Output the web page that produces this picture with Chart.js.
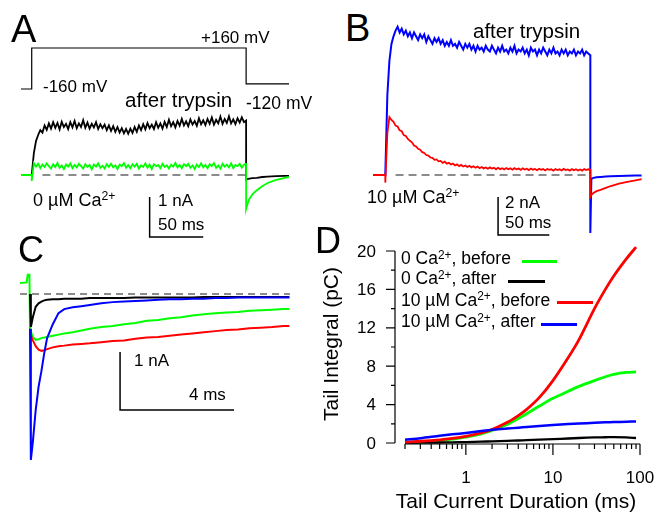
<!DOCTYPE html>
<html>
<head>
<meta charset="utf-8">
<script src="https://cdn.jsdelivr.net/npm/chart.js@4.4.0/dist/chart.umd.min.js"></script>
<style>
  body { margin: 0; background: #fff; }
  #fig { position: relative; width: 657px; height: 513px; overflow: hidden;
         font-family: "Liberation Sans", Arial, sans-serif; color: #000; }
  #fig canvas { position: absolute; }
  .lbl { position: absolute; line-height: 1; white-space: nowrap; }
  .sup { font-size: 68%; position: relative; top: -0.45em; }
  .key { position: absolute; height: 3px; }
</style>
</head>
<body>
<div id="fig">
  <canvas id="chartA" width="268" height="220" style="left:21px;top:30px"></canvas>
  <canvas id="chartB" width="269" height="235" style="left:373px;top:15px"></canvas>
  <canvas id="chartC" width="270" height="205" style="left:20px;top:265px"></canvas>
  <canvas id="chartD" width="347" height="273" style="left:310px;top:240px"></canvas>

  <div class="lbl" style="left:11px;top:10px;font-size:38px">A</div>
  <div class="lbl" style="left:345px;top:9px;font-size:38px">B</div>
  <div class="lbl" style="left:18px;top:232px;font-size:36px">C</div>
  <div class="lbl" style="left:315px;top:223px;font-size:36px">D</div>

  <div class="lbl" style="left:201px;top:28.6px;font-size:17px">+160 mV</div>
  <div class="lbl" style="left:43px;top:77.6px;font-size:17px">-160 mV</div>
  <div class="lbl" style="left:125px;top:90px;font-size:20.5px">after trypsin</div>
  <div class="lbl" style="left:246px;top:95px;font-size:17.5px">-120 mV</div>
  <div class="lbl" style="left:33px;top:190.8px;font-size:18px">0 µM Ca<span class="sup">2+</span></div>
  <div class="lbl" style="left:158px;top:192px;font-size:17px">1 nA</div>
  <div class="lbl" style="left:158px;top:215.6px;font-size:17px">50 ms</div>

  <div class="lbl" style="left:473px;top:21px;font-size:20.5px">after trypsin</div>
  <div class="lbl" style="left:367px;top:187.8px;font-size:18px">10 µM Ca<span class="sup">2+</span></div>
  <div class="lbl" style="left:505px;top:193.6px;font-size:17px">2 nA</div>
  <div class="lbl" style="left:505px;top:213.6px;font-size:17px">50 ms</div>

  <div class="lbl" style="left:134px;top:351.6px;font-size:17px">1 nA</div>
  <div class="lbl" style="left:189px;top:385.6px;font-size:17px">4 ms</div>

  <div class="lbl" style="left:401px;top:250px;font-size:17.5px">0 Ca<span class="sup">2+</span>, before</div>
  <div class="lbl" style="left:401px;top:270px;font-size:17.5px">0 Ca<span class="sup">2+</span>, after</div>
  <div class="lbl" style="left:401px;top:291.7px;font-size:17.5px">10 µM Ca<span class="sup">2+</span>, before</div>
  <div class="lbl" style="left:401px;top:313px;font-size:17.5px">10 µM Ca<span class="sup">2+</span>, after</div>
  <div class="key" style="left:522px;top:259.5px;width:35px;background:#00ff00"></div>
  <div class="key" style="left:508px;top:279.5px;width:37px;background:#000"></div>
  <div class="key" style="left:557px;top:300.5px;width:36px;background:#ff0000"></div>
  <div class="key" style="left:541px;top:322.5px;width:36px;background:#0000ff"></div>
</div>

<script>
// ---- panel A: 0 uM Ca, step to +160 mV (ms, nA, mV)
var aStepEnd = 200;
var aPreTime = [-10, 0];
var aPreBlack = [0, 0];
var aPreGreen = [0, 0];
var aBlackStep = [0.00, 0.55, 0.85, 1.00, 1.12, 1.06, 1.24, 1.13, 1.29, 1.16, 1.32, 1.18, 1.30, 1.14, 1.33, 1.20,
  1.28, 1.15, 1.32, 1.19, 1.35, 1.17, 1.29, 1.20, 1.37, 1.18, 1.31, 1.16, 1.28, 1.19, 1.32, 1.15, 1.27, 1.17,
  1.26, 1.12, 1.24, 1.10, 1.22, 1.08, 1.20, 1.06, 1.17, 1.04, 1.15, 1.03, 1.16, 1.05, 1.20, 1.08, 1.24, 1.12,
  1.27, 1.14, 1.30, 1.17, 1.26, 1.15, 1.32, 1.18, 1.29, 1.16, 1.33, 1.20, 1.38, 1.22, 1.32, 1.19, 1.35, 1.23,
  1.40, 1.24, 1.34, 1.22, 1.39, 1.26, 1.35, 1.23, 1.42, 1.27, 1.37, 1.25, 1.40, 1.28, 1.44, 1.26, 1.38, 1.29,
  1.46, 1.28, 1.40, 1.30, 1.47, 1.29, 1.39, 1.27, 1.42, 1.31, 1.44, 1.32, 1.36];
var aGreenStep = [-0.15, 0.30, 0.21, 0.28, 0.17, 0.26, 0.20, 0.29, 0.22, 0.16, 0.27, 0.20, 0.30, 0.18, 0.24,
  0.15, 0.26, 0.21, 0.29, 0.17, 0.25, 0.19, 0.28, 0.22, 0.16, 0.27, 0.20, 0.25, 0.14, 0.26, 0.21, 0.29, 0.18,
  0.23, 0.16, 0.27, 0.20, 0.28, 0.19, 0.24, 0.15, 0.26, 0.22, 0.30, 0.18, 0.25, 0.17, 0.27, 0.21, 0.28, 0.16,
  0.24, 0.20, 0.29, 0.18, 0.26, 0.15, 0.27, 0.22, 0.25, 0.17, 0.28, 0.20, 0.24, 0.16, 0.26, 0.21, 0.30, 0.19,
  0.25, 0.17, 0.27, 0.22, 0.28, 0.18, 0.24, 0.15, 0.26, 0.20, 0.29, 0.19, 0.25, 0.17, 0.27, 0.22, 0.30, 0.18,
  0.24, 0.16, 0.28, 0.21, 0.26, 0.19, 0.29, 0.17, 0.25, 0.22, 0.28, 0.18, 0.26, 0.27];
var aTailTime = [200, 201, 203, 206, 210, 215, 220, 228, 236, 240];
var aBlackTail = [-0.12, -0.10, -0.09, -0.08, -0.07, -0.05, -0.04, -0.03, -0.02, -0.02];
var aGreenTail = [-0.85, -0.75, -0.60, -0.48, -0.38, -0.28, -0.20, -0.12, -0.07, -0.05];
var aVoltTime = [-10, 0, 0, 200, 200, 240];
var aVolt = [-160, -160, 160, 160, -120, -120];
var aBaseTime = [10, 200];
var aBarTime = [110, 110, 160];
var aBarCurrent = [-0.55, -1.55, -1.55];

// ---- panel B: 10 uM Ca
var bStepEnd = 200;
var bPreTime = [-12, 0];
var bPreBlue = [0, 0];
var bPreRed = [0, 0];
var bBlueStep = [0, 4.2, 6.0, 6.9, 7.3, 7.6, 7.8, 7.5, 7.7, 7.4, 7.6, 7.3, 7.5, 7.2, 7.5, 7.3, 7.1, 7.4, 7.2,
  7.4, 7.0, 7.3, 7.1, 6.9, 7.2, 7.0, 7.2, 6.9, 7.1, 6.8, 7.0, 6.8, 7.1, 6.8, 6.9, 6.7, 7.0, 6.8, 6.6, 6.9,
  6.7, 6.9, 6.6, 6.8, 6.5, 6.8, 6.6, 6.7, 6.5, 6.8, 6.6, 6.5, 6.8, 6.6, 6.4, 6.7, 6.5, 6.8, 6.5, 6.6, 6.4,
  6.7, 6.5, 6.8, 6.4, 6.6, 6.5, 6.7, 6.4, 6.6, 6.3, 6.7, 6.5, 6.6, 6.3, 6.6, 6.4, 6.7, 6.5, 6.3, 6.6, 6.4,
  6.7, 6.4, 6.5, 6.3, 6.6, 6.4, 6.6, 6.3, 6.5, 6.4, 6.6, 6.3, 6.5, 6.4, 6.6, 6.3, 6.5, 6.4, 6.3];
var bRedStep = [-0.4, 2.2, 3.05, 2.9, 2.8, 2.6, 2.55, 2.35, 2.3, 2.1, 2.05, 1.9, 1.8, 1.72, 1.55, 1.5, 1.38,
  1.33, 1.2, 1.16, 1.05, 1.02, 0.92, 0.9, 0.8, 0.82, 0.72, 0.74, 0.64, 0.7, 0.6, 0.64, 0.55, 0.6, 0.5, 0.56,
  0.47, 0.53, 0.45, 0.5, 0.42, 0.48, 0.4, 0.46, 0.38, 0.44, 0.36, 0.42, 0.35, 0.4, 0.33, 0.4, 0.34, 0.38,
  0.3, 0.38, 0.31, 0.36, 0.29, 0.37, 0.3, 0.35, 0.28, 0.36, 0.3, 0.34, 0.27, 0.35, 0.29, 0.33, 0.26, 0.34,
  0.28, 0.32, 0.25, 0.33, 0.27, 0.31, 0.24, 0.32, 0.27, 0.3, 0.23, 0.31, 0.26, 0.3, 0.24, 0.32, 0.26, 0.29,
  0.23, 0.31, 0.25, 0.3, 0.24, 0.29, 0.23, 0.31, 0.26, 0.3, 0.28];
var bTailTime = [200, 201, 203, 206, 210, 215, 220, 228, 236, 244, 250];
var bBlueTail = [-3.05, -0.2, -0.15, -0.12, -0.1, -0.08, -0.07, -0.05, -0.04, -0.03, -0.02];
var bRedTail = [-1.15, -1.05, -0.95, -0.85, -0.78, -0.68, -0.58, -0.46, -0.36, -0.28, -0.22];
var bBaseTime = [10, 200];
var bBarTime = [110, 110, 160];
var bBarCurrent = [-1.16, -3.16, -3.16];

// ---- panel C: tail currents at -120 mV, expanded
var cTime = [0, 0.03, 0.1, 0.2, 0.3, 0.4, 0.5, 0.6, 0.8, 1.0, 1.2, 1.5, 1.8, 2.1, 2.5, 2.9, 3.3, 3.7, 4.1,
  4.5, 4.9, 5.3, 5.7, 6.1, 6.5, 6.9, 7.3, 7.7, 8.1, 8.5, 8.9, 9.1];
var cGreenPreTime = [-0.35, -0.12, -0.08, -0.02];
var cGreenPre = [0.19, 0.2, 0.33, 0.33];
var cGreen = [-0.6, -0.65, -0.74, -0.79, -0.78, -0.76, -0.75, -0.74, -0.72, -0.7, -0.68, -0.66, -0.63, -0.6,
  -0.57, -0.55, -0.52, -0.5, -0.46, -0.45, -0.42, -0.4, -0.37, -0.35, -0.33, -0.32, -0.31, -0.29, -0.28,
  -0.27, -0.26, -0.26];
var cBlack = [0.0, -0.57, -0.4, -0.22, -0.16, -0.13, -0.11, -0.1, -0.09, -0.09, -0.08, -0.08, -0.08, -0.07,
  -0.07, -0.07, -0.07, -0.06, -0.06, -0.06, -0.06, -0.06, -0.06, -0.05, -0.05, -0.05, -0.05, -0.05, -0.05,
  -0.05, -0.05, -0.05];
var cRed = [-0.7, -0.72, -0.8, -0.9, -0.96, -0.98, -0.97, -0.95, -0.92, -0.9, -0.89, -0.87, -0.86, -0.85,
  -0.83, -0.81, -0.8, -0.77, -0.75, -0.74, -0.72, -0.7, -0.68, -0.66, -0.64, -0.62, -0.61, -0.59, -0.58,
  -0.57, -0.55, -0.55];
var cBlue = [-0.6, -2.86, -2.55, -2.0, -1.6, -1.33, -1.02, -0.76, -0.52, -0.33, -0.26, -0.23, -0.21, -0.19,
  -0.16, -0.14, -0.13, -0.12, -0.11, -0.1, -0.09, -0.09, -0.08, -0.08, -0.07, -0.07, -0.06, -0.06, -0.06,
  -0.06, -0.06, -0.06];
var cBaseTime = [-0.35, 9.12];
var cBarTime = [3.16, 3.16, 7.16];
var cBarCurrent = [-1.0, -2.0, -2.0];

// ---- panel D: tail integral vs duration
var dDuration = [0.2, 0.3, 0.5, 0.7, 1, 1.5, 2, 3, 4, 5, 7, 10, 15, 20, 30, 40, 50, 70, 90];
var dZeroBefore = [0.05, 0.1, 0.25, 0.4, 0.6, 0.95, 1.3, 1.95, 2.55, 3.05, 3.85, 4.65, 5.4, 5.9, 6.5, 6.9, 7.15, 7.35, 7.4];
var dZeroAfter = [0.02, 0.03, 0.05, 0.07, 0.1, 0.14, 0.17, 0.22, 0.26, 0.3, 0.35, 0.4, 0.47, 0.52, 0.58, 0.6, 0.62, 0.58, 0.52];
var dTenBefore = [0.1, 0.18, 0.33, 0.48, 0.7, 1.05, 1.4, 2.15, 2.85, 3.5, 4.75, 6.5, 8.9, 10.8, 14.0, 16.0, 17.4, 19.2, 20.4];
var dTenAfter = [0.35, 0.5, 0.75, 0.9, 1.05, 1.25, 1.38, 1.5, 1.6, 1.67, 1.77, 1.87, 1.97, 2.03, 2.1, 2.15, 2.18, 2.22, 2.25];
var dYTicks = [0, 4, 8, 12, 16, 20];
var dXTicks = [1, 10, 100];

var GREEN = "#00ff00", RED = "#ff0000", BLUE = "#0000ff", BLACK = "#000000", DASH = "#666666";

function pairs(xs, ys) {
  return xs.map((x, i) => ({ x: x, y: ys[i] }));
}

function tracePoints(preT, preV, stepV, stepEnd, tailT, tailV) {
  var dt = stepEnd / (stepV.length - 1);
  var pts = pairs(preT, preV);
  stepV.forEach((v, i) => pts.push({ x: i * dt, y: v }));
  return pts.concat(pairs(tailT, tailV));
}

function line(data, color, width, extra) {
  return Object.assign({ data: data, borderColor: color, borderWidth: width, pointRadius: 0,
    tension: 0, fill: false, clip: false }, extra || {});
}

function traceOptions(xMin, xMax, yMin, yMax, extraScales) {
  var scales = {
    x: { type: "linear", display: false, min: xMin, max: xMax },
    y: { display: false, min: yMin, max: yMax },
  };
  Object.assign(scales, extraScales || {});
  return {
    responsive: false,
    animation: false,
    layout: { padding: 0 },
    plugins: { legend: { display: false }, tooltip: { enabled: false } },
    scales: scales,
  };
}

function initializeChartA(ctx) {
  new Chart(ctx, {
    type: "line",
    data: {
      datasets: [
        line(tracePoints(aPreTime, aPreGreen, aGreenStep, aStepEnd, aTailTime, aGreenTail), GREEN, 1.8),
        line(tracePoints(aPreTime, aPreBlack, aBlackStep, aStepEnd, aTailTime, aBlackTail), BLACK, 1.8),
        line(pairs(aVoltTime, aVolt), BLACK, 1.2, { yAxisID: "yV" }),
        line(pairs(aBarTime, aBarCurrent), BLACK, 1.5),
        line(pairs(aBaseTime, [0, 0]), DASH, 1.5, { borderDash: [8, 5] }),
      ],
    },
    options: traceOptions(-10, 240, -1.875, 3.625, {
      yV: { display: false, min: -1416.6, max: 300.5 },
    }),
  });
}

function initializeChartB(ctx) {
  new Chart(ctx, {
    type: "line",
    data: {
      datasets: [
        line(tracePoints(bPreTime, bPreRed, bRedStep, bStepEnd, bTailTime, bRedTail), RED, 1.8),
        line(tracePoints(bPreTime, bPreBlue, bBlueStep, bStepEnd, bTailTime, bBlueTail), BLUE, 2),
        line(pairs(bBarTime, bBarCurrent), BLACK, 1.5),
        line(pairs(bBaseTime, [0, 0]), DASH, 1.5, { borderDash: [8, 5] }),
      ],
    },
    options: traceOptions(-12, 250.4, -3.947, 8.421),
  });
}

function initializeChartC(ctx) {
  new Chart(ctx, {
    type: "line",
    data: {
      datasets: [
        line(pairs(cTime, cBlue), BLUE, 2),
        line(pairs(cTime, cBlack), BLACK, 2),
        line(pairs(cTime, cRed), RED, 2),
        line(pairs(cGreenPreTime, cGreenPre).concat(pairs(cTime, cGreen)), GREEN, 2),
        line(pairs(cBarTime, cBarCurrent), BLACK, 1.5),
        line(pairs(cBaseTime, [0, 0]), DASH, 1.3, { borderDash: [7, 5] }),
      ],
    },
    options: traceOptions(-0.351, 9.123, -3.034, 0.5),
  });
}

// axes of panel D are offset from the plot area, so they are drawn here from the chart's scales
var dAxesPlugin = {
  id: "dAxes",
  beforeDatasetsDraw(chart) {
    var ctx = chart.ctx;
    var xs = chart.scales.x;
    var ys = chart.scales.y;
    var axisX = chart.chartArea.left - 10;
    var axisY = ys.getPixelForValue(0) + 1;
    ctx.save();
    ctx.strokeStyle = BLACK;
    ctx.fillStyle = BLACK;
    ctx.lineWidth = 1.2;
    ctx.beginPath();
    ctx.moveTo(axisX, ys.getPixelForValue(20));
    ctx.lineTo(axisX, ys.getPixelForValue(0));
    for (var v = 0; v <= 20; v += 2) {
      var py = ys.getPixelForValue(v);
      ctx.moveTo(axisX, py);
      ctx.lineTo(axisX - (dYTicks.includes(v) ? 9 : 4), py);
    }
    ctx.moveTo(xs.getPixelForValue(0.2), axisY);
    ctx.lineTo(xs.getPixelForValue(100), axisY);
    [0.1, 1, 10].forEach((dec) => {
      for (var m = 1; m <= 9; m++) {
        var val = dec * m;
        if (val < 0.2) continue;
        var px = xs.getPixelForValue(val);
        ctx.moveTo(px, axisY);
        ctx.lineTo(px, axisY + (m === 1 ? 11 : 5));
      }
    });
    var p100 = xs.getPixelForValue(100);
    ctx.moveTo(p100, axisY);
    ctx.lineTo(p100, axisY + 11);
    ctx.stroke();

    ctx.font = '17px "Liberation Sans", Arial, sans-serif';
    ctx.textAlign = "right";
    ctx.textBaseline = "middle";
    dYTicks.forEach((t) => ctx.fillText(String(t), axisX - 19, ys.getPixelForValue(t) + 1));
    ctx.textAlign = "center";
    dXTicks.forEach((t) => ctx.fillText(String(t), xs.getPixelForValue(t), axisY + 34));

    ctx.font = '21px "Liberation Sans", Arial, sans-serif';
    ctx.fillText("Tail Current Duration (ms)", 206, 262);
    ctx.translate(22, 104);
    ctx.rotate(-Math.PI / 2);
    ctx.fillText("Tail Integral (pC)", 0, 0);
    ctx.restore();
  },
};

function initializeChartD(ctx) {
  new Chart(ctx, {
    type: "line",
    data: {
      datasets: [
        line(pairs(dDuration, dTenAfter), BLUE, 2.5, { tension: 0.3 }),
        line(pairs(dDuration, dTenBefore), RED, 2.8, { tension: 0.3 }),
        line(pairs(dDuration, dZeroAfter), BLACK, 2.3, { tension: 0.3 }),
        line(pairs(dDuration, dZeroBefore), GREEN, 2.8, { tension: 0.3 }),
      ],
    },
    options: {
      responsive: false,
      animation: false,
      layout: { padding: { left: 95, right: 17, top: 11, bottom: 70 } },
      plugins: { legend: { display: false }, tooltip: { enabled: false } },
      scales: {
        x: { type: "logarithmic", display: false, min: 0.2, max: 100 },
        y: { display: false, min: 0, max: 20 },
      },
    },
    plugins: [dAxesPlugin],
  });
}

window.addEventListener("load", function () {
  initializeChartA(document.getElementById("chartA").getContext("2d"));
  initializeChartB(document.getElementById("chartB").getContext("2d"));
  initializeChartC(document.getElementById("chartC").getContext("2d"));
  initializeChartD(document.getElementById("chartD").getContext("2d"));
});
</script>
</body>
</html>
